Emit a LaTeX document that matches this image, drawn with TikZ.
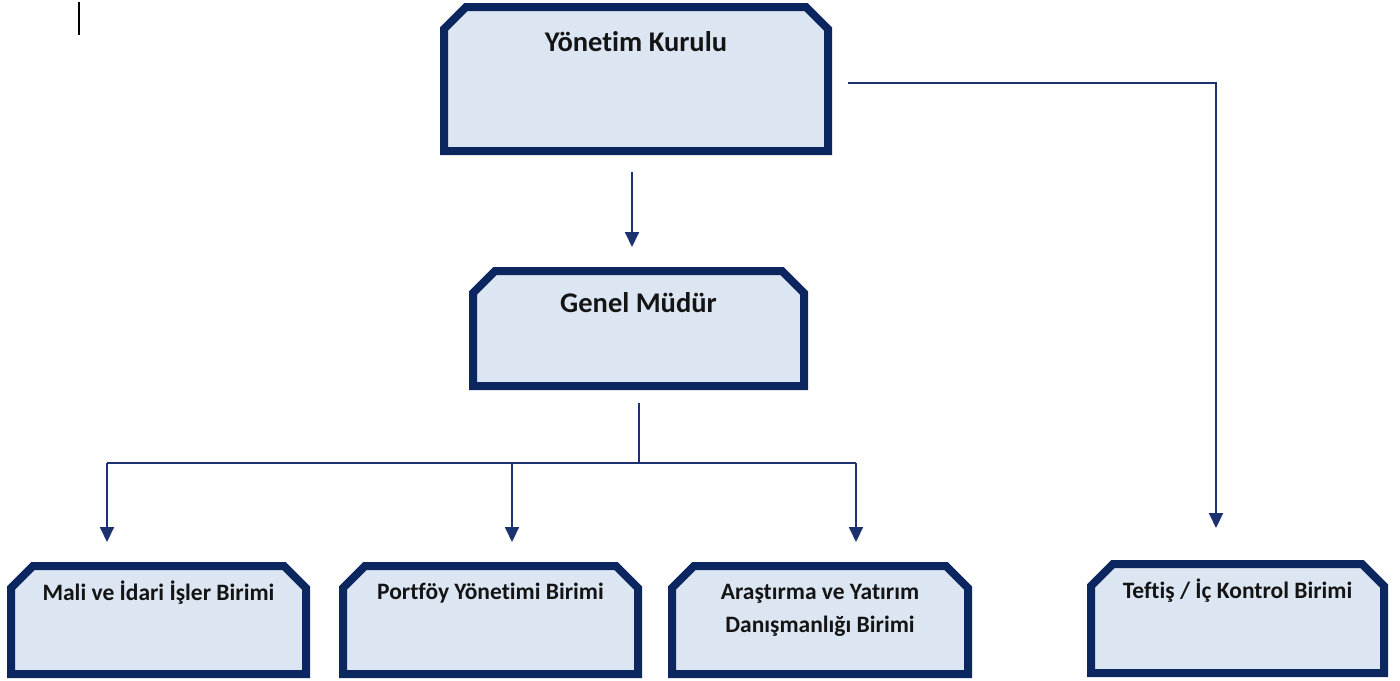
\documentclass[tikz,border=0pt]{standalone}
\usepackage{fontspec}
\setmainfont{Carlito}[Ligatures=NoCommon]
\usetikzlibrary{arrows.meta}
\definecolor{boxfill}{RGB}{220,230,242}
\definecolor{boxline}{RGB}{12,38,96}
\definecolor{conn}{RGB}{28,50,112}
\tikzset{
  box/.style={draw=none, inner sep=0pt, outer sep=0pt},
  chamfer/.style={draw=boxline, fill=boxfill, line width=8pt, line join=miter},
  lbl/.style={text=black!92, align=center, inner sep=0pt},
  biglbl/.style={lbl, font=\fontsize{28.5}{34}\bfseries\selectfont},
  smalllbl/.style={lbl, font=\fontsize{23.5}{33}\bfseries\selectfont},
  connector/.style={draw=conn, line width=2pt, -{Triangle[width=14pt,length=15pt]}},
  plain/.style={draw=conn, line width=2pt}
}
\newcommand{\chbox}[1]{%
  \path[chamfer] ([yshift=-22pt]#1.north west) -- ([xshift=22pt]#1.north west)
    -- ([xshift=-22pt]#1.north east) -- ([yshift=-22pt]#1.north east)
    -- (#1.south east) -- (#1.south west) -- cycle;}
\begin{document}
\begin{tikzpicture}[x=1pt,y=-1pt]
\useasboundingbox (0,0) rectangle (1400,680);
% cursor mark
\draw[black, line width=1.4pt] (79,2) -- (79,35);
% boxes
\node[box, minimum width=384pt, minimum height=144pt] (yk) at (636,79) {};
\node[box, minimum width=331pt, minimum height=115pt] (gm) at (638.5,328.5) {};
\node[box, minimum width=295pt, minimum height=108pt] (mali) at (158.5,620) {};
\node[box, minimum width=295pt, minimum height=108pt] (port) at (490.5,620) {};
\node[box, minimum width=296pt, minimum height=108pt] (aras) at (820,620) {};
\node[box, minimum width=293pt, minimum height=109pt] (teft) at (1237.5,618.5) {};
\chbox{yk}\chbox{gm}\chbox{mali}\chbox{port}\chbox{aras}\chbox{teft}
% labels
\node[biglbl] (ykt) at (636,42) {Yönetim Kurulu};
\node[biglbl] (gmt) at (638.5,303) {Genel Müdür};
\node[smalllbl] (malit) at (158.5,593) {Mali ve İdari İşler Birimi};
\node[smalllbl] (portt) at (490.5,593) {Portföy Yönetimi Birimi};
\node[smalllbl] (arast) at (820,610.5) {Araştırma ve Yatırım\\Danışmanlığı Birimi};
\node[smalllbl] (teftt) at (1237.5,591) {Teftiş / İç Kontrol Birimi};
% connector coordinates
\coordinate (j) at (638.5,463);
\coordinate (d1) at (107,463);
\coordinate (d2) at (512,463);
\coordinate (d3) at (856,463);
\coordinate (tk) at (1216,83);
\coordinate (ya) at (632,151);
% connectors
\draw[connector, shorten <=21pt, shorten >=24pt] (ya) -- (ya |- gm.north);
\draw[connector, shorten <=20pt, shorten >=36pt] (yk.east |- tk) -- (tk) -- (tk |- teft.north);
\draw[plain, shorten <=17pt] (gm.south) -- (j);
\draw[plain] (d1) -- (d3);
\draw[connector, shorten >=24pt] (d1) -- (d1 |- mali.north);
\draw[connector, shorten >=24pt] (d2) -- (d2 |- port.north);
\draw[connector, shorten >=24pt] (d3) -- (d3 |- aras.north);
\end{tikzpicture}
\end{document}
